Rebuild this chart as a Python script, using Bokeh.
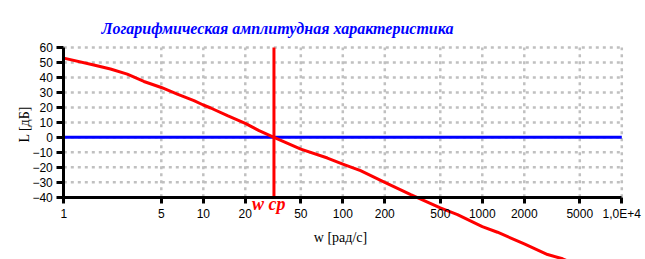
from bokeh.plotting import figure
from bokeh.models import Range1d, FixedTicker, Label
from bokeh.embed import file_html
from bokeh.resources import INLINE

# Data
w = [1, 1.64, 2.16, 2.85, 3.75, 5, 6.51, 8.57, 10, 11.3, 14.9, 20, 25.1, 32.1,
     50, 77.6, 100, 134, 200, 307, 500, 664, 1000, 1285, 2000, 2937, 3760, 4200]
L = [52.9, 48.3, 45.6, 42.2, 37.3, 33.3, 28.9, 24.5, 21.6, 19.6, 14.5, 9.3, 4.5, 0,
     -7.8, -13.8, -17.8, -22.2, -30, -38.2, -47.1, -51.5, -59.5, -63.3, -71.1, -78.2, -81, -83]
w_cp = 32.1
x_ticks = [1, 5, 10, 20, 50, 100, 200, 500, 1000, 2000, 5000, 10000]
x_tick_labels = ["1", "5", "10", "20", "50", "100", "200", "500", "1000", "2000", "5000", "1,0E+4"]
y_ticks = [-40, -30, -20, -10, 0, 10, 20, 30, 40, 50, 60]

title_text = "Логарифмическая амплитудная характеристика"
x_label = "w [рад/с]"
y_label = "L [дБ]"
cp_label = "w cp"

xmin, xmax = x_ticks[0], x_ticks[-1]
ymin, ymax = y_ticks[0], y_ticks[-1]

# frame covers the whole canvas so that the axes, labels and the curve below -40 stay visible
p = figure(width=645, height=259, x_axis_type="log",
           x_range=Range1d(0.3517, 14791), y_range=Range1d(-81.5, 91.33),
           output_backend="svg", toolbar_location=None,
           min_border_left=0, min_border_right=0, min_border_top=0, min_border_bottom=0)
p.outline_line_color = None
p.xgrid.visible = False
p.ygrid.visible = False

grid_kw = dict(line_color="#c0c0c0", line_width=2.5, line_dash="3 4")
vx = x_ticks[1:]
p.segment(x0=vx, x1=vx, y0=[ymin] * len(vx), y1=[ymax] * len(vx), **grid_kw)
hy = y_ticks[1:]
p.segment(x0=[xmin] * len(hy), x1=[xmax] * len(hy), y0=hy, y1=hy, **grid_kw)

# zero line
p.line([xmin, xmax], [0, 0], line_color="#0000ff", line_width=3)
# curve
p.line(w, L, line_color="#ff0000", line_width=3)
# crossover frequency
p.line([w_cp, w_cp], [ymin, ymax], line_color="#ff0000", line_width=3)

# axes
xa = p.xaxis[0]
xa.fixed_location = ymin
xa.bounds = (xmin, xmax)
xa.ticker = FixedTicker(ticks=x_ticks)
xa.major_label_overrides = {t: s for t, s in zip(x_ticks, x_tick_labels)}
xa.axis_line_width = 3
xa.major_tick_line_width = 3
xa.major_tick_out = 6
xa.major_tick_in = 0
xa.minor_tick_out = 0
xa.minor_tick_in = 0
xa.major_label_standoff = 4
xa.major_label_text_font = "Liberation Sans"
xa.major_label_text_font_size = "12px"
xa.major_label_text_color = "#000000"

ya = p.yaxis[0]
ya.fixed_location = xmin
ya.bounds = (ymin, ymax)
ya.ticker = FixedTicker(ticks=y_ticks)
ya.axis_line_width = 3
ya.major_tick_line_width = 3
ya.major_tick_out = 7
ya.major_tick_in = 0
ya.minor_tick_out = 0
ya.minor_tick_in = 0
ya.major_label_standoff = 4
ya.major_label_text_font = "Liberation Sans"
ya.major_label_text_font_size = "12px"
ya.major_label_text_color = "#000000"

# texts
p.add_layout(Label(x=34.0, y=72.6, text=title_text, text_font="Liberation Serif",
                   text_font_style="bold italic", text_font_size="16px",
                   text_color="#0000ff", text_baseline="alphabetic", text_align="center"))
p.add_layout(Label(x=0.522, y=8.7, text=y_label, angle=1.5708, text_font="Liberation Serif",
                   text_font_size="14px", text_color="#000000",
                   text_align="center", text_baseline="middle"))
p.add_layout(Label(x=96.3, y=-66.5, text=x_label, text_font="Liberation Serif",
                   text_font_size="14px", text_color="#000000",
                   text_align="center", text_baseline="middle"))
p.add_layout(Label(x=29.4, y=-44.7, text=cp_label, text_font="Liberation Serif",
                   text_font_style="bold italic", text_font_size="18px",
                   text_color="#ff0000", text_align="center", text_baseline="middle"))

open("out.html", "w").write(file_html(p, INLINE))
